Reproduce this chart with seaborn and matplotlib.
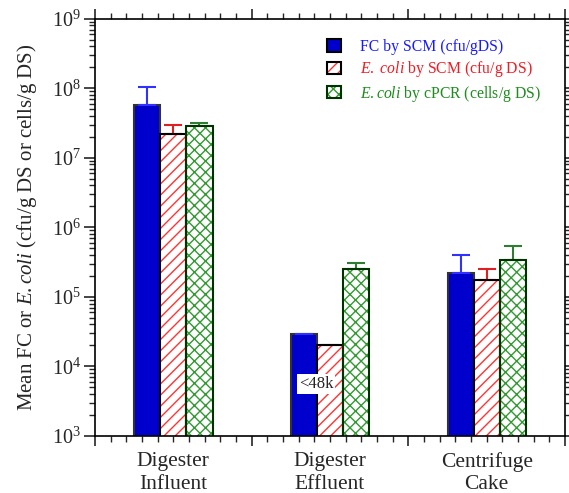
import numpy as np
import pandas as pd
import matplotlib
matplotlib.use('Agg')
import matplotlib.pyplot as plt
import seaborn as sns
from matplotlib.patches import Rectangle, Patch
from matplotlib.ticker import LogLocator, LogFormatterMathtext, NullFormatter

# data
sites = ['Digester\nInfluent', 'Digester\nEffluent', 'Centrifuge\nCake']
methods = ['FC by SCM', 'E. coli by SCM', 'E.coli by cPCR']
fc_scm = [5.8e7, 2.9e4, 2.2e5]
ecoli_scm = [2.2e7, 2.0e4, 1.75e5]
ecoli_pcr = [2.9e7, 2.5e5, 3.4e5]
fc_scm_err = [4.7e7, np.nan, 1.8e5]
ecoli_scm_err = [8e6, np.nan, 7.5e4]
ecoli_pcr_err = [3e6, 6e4, 2e5]
legend_labels = ['FC by SCM (cfu/gDS)',
                 r'$\it{E.}$ $\it{coli}$ by SCM (cfu/g DS)',
                 r'$\it{E.coli}$ by cPCR (cells/g DS)']

values = [fc_scm, ecoli_scm, ecoli_pcr]
errors = [fc_scm_err, ecoli_scm_err, ecoli_pcr_err]

df = pd.DataFrame({
    'site': np.tile(sites, 3),
    'method': np.repeat(methods, 3),
    'value': np.concatenate(values),
})

sns.set_style('ticks')
plt.rcParams['font.family'] = ['Liberation Serif', 'DejaVu Serif']
plt.rcParams['mathtext.fontset'] = 'custom'
plt.rcParams['mathtext.rm'] = 'Liberation Serif'
plt.rcParams['mathtext.it'] = 'Liberation Serif:italic'
plt.rcParams['axes.linewidth'] = 1.2
plt.rcParams['hatch.linewidth'] = 1.0

fig, ax = plt.subplots(figsize=(5.69, 4.93), dpi=100)
fig.subplots_adjust(left=0.167, right=0.993, bottom=0.116, top=0.962)

fill_cols = ['#0000cc', '#ffffff', '#ffffff']
sns.barplot(data=df, x='site', y='value', hue='method', order=sites, hue_order=methods,
            palette=fill_cols, width=0.5, errorbar=None, legend=False, saturation=1, ax=ax)
ax.set_yscale('log')

hatches = [None, '///', 'xxx']
hatch_cols = [None, '#ff3333', '#339933']
edge_cols = ['#333333', '#000000', '#003300']
err_cols = ['#3030ff', '#e02020', '#2e7d32']

bar_conts = list(ax.containers)
for i, cont in enumerate(bar_conts):
    for p in cont:
        if hatches[i]:
            p.set_hatch(hatches[i])
            p.set_edgecolor(hatch_cols[i])
            p.set_linewidth(0)
            ax.add_patch(Rectangle(p.get_xy(), p.get_width(), p.get_height(), fill=False,
                                   edgecolor=edge_cols[i], lw=1.5, zorder=p.get_zorder() + 0.1))
        else:
            p.set_edgecolor(edge_cols[i])
            p.set_linewidth(1.5)
    xs = [p.get_x() + p.get_width() / 2 for p in cont]
    ax.errorbar(xs, values[i], yerr=[np.zeros(3), errors[i]], fmt='none', ecolor=err_cols[i],
                elinewidth=1.5, capsize=6.5, capthick=1.5, zorder=1)

ax.text(0.91, 5.6e3, '<48k', ha='center', va='center', fontsize=12,
        bbox=dict(facecolor='white', edgecolor='none', pad=1.5), zorder=5)

# axes, ticks
ax.set_xlim(-0.5, 2.5)
ax.set_ylim(1e3, 1e9)
ax.set_xticks([-0.5, 0.5, 1.5, 2.5], labels=[''] * 4)
ax.set_xticks(np.arange(-0.5, 2.501, 0.1), minor=True)
ax.tick_params(axis='x', which='major', length=7, width=1.2, direction='out', top=True)
ax.tick_params(axis='x', which='minor', length=4, width=1.0, direction='out', top=True)
ax.yaxis.set_major_locator(LogLocator(base=10, numticks=10))
ax.yaxis.set_minor_locator(LogLocator(base=10, subs=np.arange(2, 10), numticks=10))
ax.yaxis.set_major_formatter(LogFormatterMathtext())
ax.yaxis.set_minor_formatter(NullFormatter())
ax.tick_params(axis='y', which='major', length=8, width=1.2, direction='out', right=True,
               labelsize=14.5, pad=2)
ax.tick_params(axis='y', which='minor', length=4, width=1.0, direction='out', right=True)
for s in ax.spines.values():
    s.set_visible(True)
    s.set_color('black')

sec = ax.secondary_xaxis('bottom')
sec.set_xticks(range(3), labels=sites)
sec.tick_params(length=0, pad=12, labelsize=15.5)
sec.spines['bottom'].set_visible(False)
for t in sec.get_xticklabels():
    t.set_linespacing(1.22)

ax.set_xlabel('')
ax.set_ylabel(r'Mean FC or $\it{E.coli}$ (cfu/g DS or cells/g DS)', fontsize=15, labelpad=9)

# legend
h0 = Patch(facecolor='#0000cc', edgecolor='black', lw=1.5)
h1 = (Patch(facecolor='white', edgecolor='#ff3333', hatch='///', lw=0),
      Patch(fill=False, edgecolor='black', lw=1.5))
h2 = (Patch(facecolor='white', edgecolor='#339933', hatch='xxx', lw=0),
      Patch(fill=False, edgecolor='#003300', lw=1.5))
leg = ax.legend([h0, h1, h2], legend_labels, loc='upper right', bbox_to_anchor=(0.98, 0.985),
                frameon=False, fontsize=11.3, handlelength=0.85, handleheight=0.85,
                handletextpad=1.27, labelspacing=0.27)
for t, c in zip(leg.get_texts(), ['#1a1aff', '#ee1c25', '#1e8c1e']):
    t.set_color(c)

fig.savefig('out.png', dpi=100)
